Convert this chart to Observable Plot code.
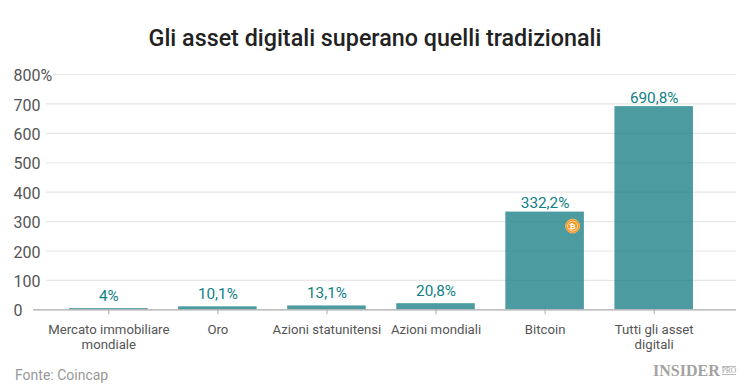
<!DOCTYPE html>
<html><head><meta charset="utf-8">
<script src="https://cdn.jsdelivr.net/npm/d3@7"></script>
<script src="https://cdn.jsdelivr.net/npm/@observablehq/plot@0.6"></script>
<style>
html,body{margin:0;padding:0;background:#fff;font-family:Roboto,sans-serif;width:750px;height:391px;overflow:hidden}
h1{margin:0;height:62px;line-height:77px;text-align:center;font-size:23.3px;font-weight:500;color:#222;letter-spacing:0}
#chart svg{display:block}
#foot{position:relative;height:36px}
#src{position:absolute;left:15px;top:11px;font-size:14px;color:#999;line-height:18px}
#logo{position:absolute;left:653px;top:7px;color:#a3a3a3;font-family:"Liberation Serif",serif;font-weight:700;font-size:16px;line-height:18px;white-space:nowrap}
#logo span{display:inline-block;font-size:7.5px;line-height:7px;margin-left:2px;border-top:1px solid #bbb;border-bottom:1px solid #bbb;vertical-align:3px;font-weight:400}
</style></head><body>
<h1>Gli asset digitali superano quelli tradizionali</h1>
<div id="chart"></div>
<div id="foot"><div id="src">Fonte: Coincap</div><div id="logo">INSIDER<span>PRO</span></div></div>
<script>
const categories = ["Mercato immobiliare\nmondiale","Oro","Azioni statunitensi","Azioni mondiali","Bitcoin","Tutti gli asset\ndigitali"];
const values = [4,10.1,13.1,20.8,332.2,690.8];
const valueLabels = ["4%","10,1%","13,1%","20,8%","332,2%","690,8%"];
const yTicks = [0,100,200,300,400,500,600,700,800];
const data = categories.map((c,i)=>({c,v:values[i],l:valueLabels[i]}));
const bitcoin = data.filter(d=>d.c==="Bitcoin");
const teal = "#0f7f85";
const plot = Plot.plot({
  width:750,height:293,marginLeft:33,marginRight:14,marginTop:12,marginBottom:45.7,
  style:{fontFamily:"Roboto,sans-serif",background:"transparent"},
  x:{domain:categories,range:[38.5,723.5],padding:.28,align:.5,round:false,label:null},
  y:{domain:[0,800],label:null},
  marks:[
    Plot.ruleY(yTicks.filter(t=>t>0&&t<800),{stroke:"#e6e6e6",strokeWidth:1.2,insetLeft:13}),
    Plot.ruleY([800],{stroke:"#e6e6e6",strokeWidth:1.2,insetLeft:20}),
    Plot.barY(data,{x:"c",y:"v",fill:"#137c82",fillOpacity:.76}),
    Plot.ruleY([0],{stroke:"#aaa",strokeWidth:1.2}),
    Plot.axisY({ticks:yTicks,tickSize:0,anchor:"left",textAnchor:"start",dx:-20,dy:1.5,fontSize:16,fill:"#555",
      tickFormat:d=>d===800?"800%":String(d),label:null,tickPadding:0}),
    Plot.axisX({tickSize:5,stroke:"#aaa",tickPadding:8,fontSize:13.2,label:null,lineHeight:1.16,fill:"#555"}),
    Plot.text(data.filter(d=>d.v>=100),{x:"c",y:"v",text:"l",dy:-8.5,fontSize:15.3,fill:teal}),
    Plot.text(data.filter(d=>d.v<100),{x:"c",y:"v",text:"l",dy:-13,fontSize:15.3,fill:teal}),
    Plot.dot(bitcoin,{x:"c",y:"v",dx:27.5,dy:14,r:7,fill:"#f7931a",stroke:"#fbb45f",strokeWidth:1}),
    Plot.dot(bitcoin,{x:"c",y:"v",dx:27.5,dy:14,r:5,fill:"#f7931a",stroke:"#ffe9cf",strokeWidth:.9}),
    Plot.text(bitcoin,{x:"c",y:"v",dx:27.5,dy:14,text:()=>"₿",fontSize:8,fontWeight:700,fill:"#fff"})
  ]
});
document.getElementById("chart").append(plot);
</script>
</body></html>
